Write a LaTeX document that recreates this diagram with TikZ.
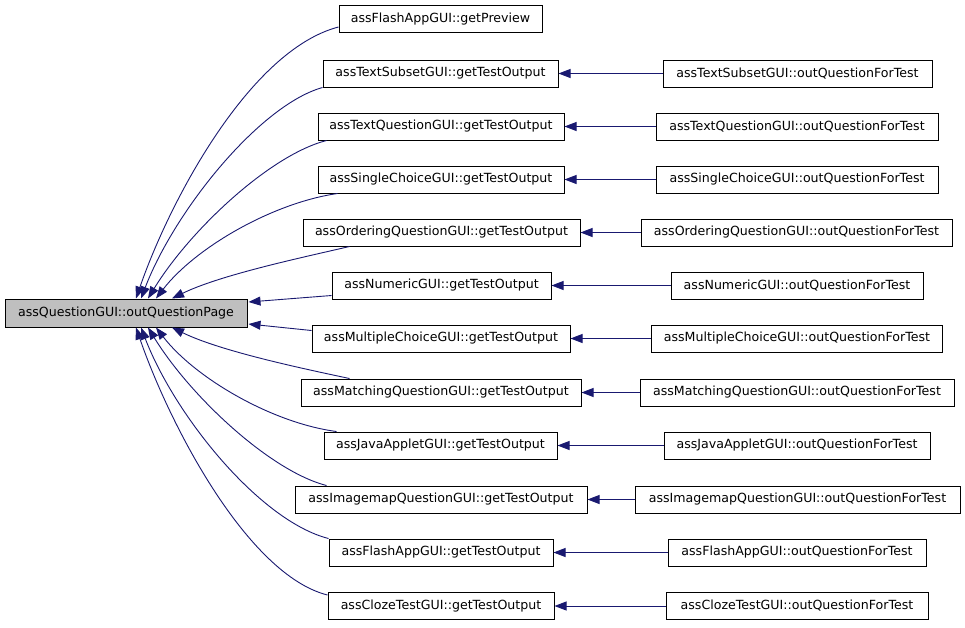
\documentclass[tikz,border=0pt]{standalone}
\usepackage{fontspec}
\setmainfont{DejaVu Sans}
\usetikzlibrary{arrows.meta,calc}
\definecolor{edgeblue}{HTML}{191970}
\definecolor{rootgray}{HTML}{BFBFBF}
\tikzset{
  fn/.style={draw=black,line width=1pt,fill=white,inner sep=0pt,minimum height=27pt,font=\fontsize{12.6}{14}\selectfont},
  rootfn/.style={fn,fill=rootgray,minimum height=28pt},
  call/.style={draw=edgeblue,line width=0.9pt,-{Triangle[length=12pt,width=9pt]}}
}
\begin{document}
\begin{tikzpicture}[x=1pt,y=-1pt]
\useasboundingbox (0,0) rectangle (965,627);
\node[rootfn,minimum width=242pt] (L) at (126,313) {assQuestionGUI::outQuestionPage};
% middle column
\node[fn,minimum width=203pt] (m1) at (440.5,19) {assFlashAppGUI::getPreview};
\node[fn,minimum width=235pt] (m2) at (440.5,73.5) {assTextSubsetGUI::getTestOutput};
\node[fn,minimum width=246pt] (m3) at (441,126.5) {assTextQuestionGUI::getTestOutput};
\node[fn,minimum width=246pt] (m4) at (441,179.5) {assSingleChoiceGUI::getTestOutput};
\node[fn,minimum width=277pt] (m5) at (441.5,232.5) {assOrderingQuestionGUI::getTestOutput};
\node[fn,minimum width=219pt] (m6) at (441.5,285.5) {assNumericGUI::getTestOutput};
\node[fn,minimum width=258pt] (m7) at (441,338.5) {assMultipleChoiceGUI::getTestOutput};
\node[fn,minimum width=280pt] (m8) at (441,392.5) {assMatchingQuestionGUI::getTestOutput};
\node[fn,minimum width=233pt] (m9) at (440.5,445.5) {assJavaAppletGUI::getTestOutput};
\node[fn,minimum width=292pt] (m10) at (441,499.5) {assImagemapQuestionGUI::getTestOutput};
\node[fn,minimum width=224pt] (m11) at (441,552.5) {assFlashAppGUI::getTestOutput};
\node[fn,minimum width=226pt] (m12) at (441,606) {assClozeTestGUI::getTestOutput};
% right column
\node[fn,minimum width=269pt] (r2) at (797.5,73.5) {assTextSubsetGUI::outQuestionForTest};
\node[fn,minimum width=282pt] (r3) at (797,126.5) {assTextQuestionGUI::outQuestionForTest};
\node[fn,minimum width=282pt] (r4) at (797,179.5) {assSingleChoiceGUI::outQuestionForTest};
\node[fn,minimum width=311pt] (r5) at (796.5,232.5) {assOrderingQuestionGUI::outQuestionForTest};
\node[fn,minimum width=252pt] (r6) at (797,285.5) {assNumericGUI::outQuestionForTest};
\node[fn,minimum width=291pt] (r7) at (797,338.5) {assMultipleChoiceGUI::outQuestionForTest};
\node[fn,minimum width=314pt] (r8) at (797,392.5) {assMatchingQuestionGUI::outQuestionForTest};
\node[fn,minimum width=266pt] (r9) at (797,445.5) {assJavaAppletGUI::outQuestionForTest};
\node[fn,minimum width=325pt] (r10) at (797.5,499.5) {assImagemapQuestionGUI::outQuestionForTest};
\node[fn,minimum width=258pt] (r11) at (797,552.5) {assFlashAppGUI::outQuestionForTest};
\node[fn,minimum width=262pt] (r12) at (797,606) {assClozeTestGUI::outQuestionForTest};
% right -> middle
\foreach \i in {2,...,12} {
  \draw[call] (r\i.west) -- (m\i.east);
}
% middle -> root (upper)
\draw[call] ($(m1.west)+(0,8)$) .. controls (250,50) and (170,200) .. ($(L.north)+(10,0)$);
\draw[call] ($(m2.south west)+(0,0)$) .. controls (260,105) and (175,210) .. ($(L.north)+(15,0)$);
\draw[call] ($(m3.south west)+(9,0)$) .. controls (270,155) and (190,230) .. ($(L.north)+(22,0)$);
\draw[call] ($(m4.south west)+(20,0)$) .. controls (272,203) and (195,248) .. ($(L.north)+(30,0)$);
\draw[call] ($(m5.south west)+(47,0)$) .. controls (300,258) and (220,275) .. ($(L.north)+(46,0)$);
\draw[call] ($(m6.west)+(0,10)$) -- ($(L.east)+(1,-11)$);
\draw[call] ($(m7.west)+(0,-8)$) -- ($(L.east)+(1,11)$);
% middle -> root (lower)
\draw[call] ($(m8.north west)+(49,0)$) .. controls (300,368) and (220,351) .. ($(L.south)+(46,0)$);
\draw[call] ($(m9.north west)+(13,0)$) .. controls (272,423) and (195,378) .. ($(L.south)+(30,0)$);
\draw[call] ($(m10.north west)+(32,0)$) .. controls (270,471) and (190,396) .. ($(L.south)+(22,0)$);
\draw[call] ($(m11.north west)+(0,0)$) .. controls (260,521) and (175,416) .. ($(L.south)+(15,0)$);
\draw[call] ($(m12.north west)+(0,3)$) .. controls (248,575) and (170,426) .. ($(L.south)+(10,0)$);
\end{tikzpicture}
\end{document}
